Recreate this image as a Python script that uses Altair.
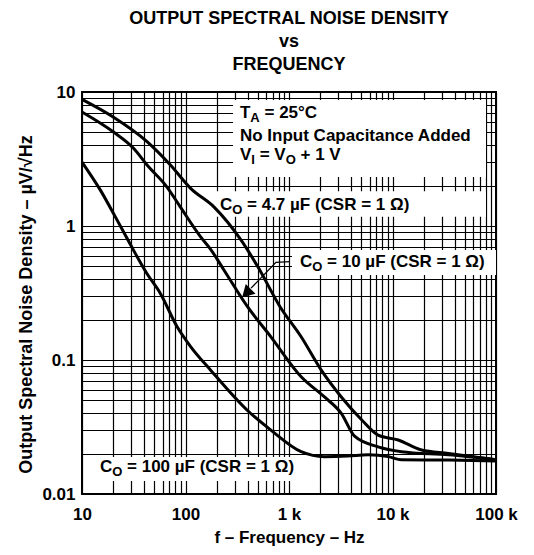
import altair as alt
import pandas as pd

# ---- data ----
C47_F = [10, 20, 42.5, 71.5, 112, 188, 342, 497, 819, 1310, 2050, 3200, 5000, 7260, 11350, 19100, 34800, 100000]
C47_V = [8.8, 6.5, 4.26, 2.85, 1.91, 1.39, 0.79, 0.50, 0.25, 0.149, 0.084, 0.053, 0.036, 0.0275, 0.0253, 0.0213, 0.0201, 0.018]

C10_F = [10, 20, 31.5, 42.5, 66, 89, 140, 175, 235, 397, 668, 1310, 2200, 3200, 4300, 7260, 12200, 34800, 100000]
C10_V = [7.1, 5.05, 3.8, 2.85, 1.96, 1.39, 0.83, 0.67, 0.47, 0.25, 0.149, 0.075, 0.053, 0.040, 0.027, 0.0225, 0.0207, 0.0196, 0.018]

C100_F = [10, 15, 21, 29, 42.5, 57, 83, 112, 175, 397, 668, 1310, 2200, 3700, 5800, 9100, 12200, 34800, 100000]
C100_V = [3.0, 1.86, 1.17, 0.74, 0.44, 0.315, 0.177, 0.126, 0.084, 0.042, 0.030, 0.0207, 0.019, 0.0192, 0.0196, 0.019, 0.018, 0.0179, 0.0176]

SERIES = ["4.7 uF", "10 uF", "100 uF"]

X_GRID = [round(m * 10 ** e, 6) for e in range(1, 5) for m in range(1, 10)] + [100000]
Y_GRID = [round(m * 10 ** e, 6) for e in range(-2, 1) for m in range(1, 10)] + [10]

TITLE_LINES = ["OUTPUT SPECTRAL NOISE DENSITY", "vs", "FREQUENCY"]
X_TITLE = "f \u2013 Frequency \u2013 Hz"
Y_TITLE = "Output Spectral Noise Density \u2013 \u00b5V/\u221aHz"

# annotation text anchors (data units) and pieces (text, is_subscript)
ANNOT_F = [336, 336, 336, 215, 1276, 14.9]
ANNOT_V = [6.97, 4.70, 3.39, 1.44, 0.538, 0.0159]
ANNOT_SEGS = [
    [("T", 0), ("A", 1), (" = 25\u00b0C", 0)],
    [("No Input Capacitance Added", 0)],
    [("V", 0), ("I", 1), (" = V", 0), ("O", 1), (" + 1 V", 0)],
    [("C", 0), ("O", 1), (" = 4.7 \u00b5F (CSR = 1 \u03a9)", 0)],
    [("C", 0), ("O", 1), (" = 10 \u00b5F (CSR = 1 \u03a9)", 0)],
    [("C", 0), ("O", 1), (" = 100 \u00b5F (CSR = 1 \u03a9)", 0)],
]

# white label backgrounds (data units)
BOX_F1 = [288, 193, 1069, 10.9]
BOX_F2 = [80000, 80000, 100000, 1596]
BOX_V1 = [8.71, 1.82, 0.662, 0.0189]
BOX_V2 = [2.32, 1.17, 0.431, 0.0125]

# leader arrow for the 10 uF label
LEAD_F = [1023, 748, 430]
LEAD_V = [0.542, 0.535, 0.344]
HEAD_F = [400]
HEAD_V = [0.324]

FONT = "Liberation Sans"
XS = alt.Scale(type="log", domain=[10, 100000])
YS = alt.Scale(type="log", domain=[0.01, 10])

# Arial/Liberation Sans Bold advance widths (per 1000 em)
W = {" ": 278, "(": 333, ")": 333, "+": 584, ".": 278, "=": 584, "\u00b0": 400,
     "A": 722, "C": 722, "F": 611, "I": 278, "N": 722, "O": 778, "R": 722, "S": 667,
     "T": 611, "V": 667, "a": 556, "c": 556, "d": 611, "e": 556, "i": 278, "n": 611,
     "p": 611, "t": 333, "u": 611, "\u00b5": 611, "\u03a9": 768}
for d in "0123456789":
    W[d] = 556


def width(s, size):
    return sum(W.get(ch, 600) for ch in s) * size / 1000.0


MAIN_SIZE = 17
SUB_SIZE = 13

# ---- curves ----
rows = []
for name, fs, vs in zip(SERIES, [C47_F, C10_F, C100_F], [C47_V, C10_V, C100_V]):
    for f, v in zip(fs, vs):
        rows.append({"series": name, "f": f, "v": v})
curves_df = pd.DataFrame(rows)

x_label_expr = ("datum.value == 10 ? '10' : datum.value == 100 ? '100' : datum.value == 1000 ? '1 k' : "
                "datum.value == 10000 ? '10 k' : datum.value == 100000 ? '100 k' : ''")
y_label_expr = ("datum.value == 10 ? '10' : datum.value == 1 ? '1' : datum.value == 0.1 ? '0.1' : "
                "datum.value == 0.01 ? '0.01' : ''")

common_axis = dict(grid=True, gridColor="black", gridWidth=1.2, gridOpacity=1,
                   ticks=False, tickSize=0, domain=False, labelFont=FONT, labelFontWeight="bold",
                   labelFontSize=17, labelColor="black", labelOverlap=False, labelFlush=False,
                   titleFont=FONT, titleFontWeight="bold", titleColor="black")

X_AXIS = alt.Axis(values=X_GRID, labelExpr=x_label_expr, labelPadding=12,
                  title=X_TITLE, titleFontSize=17, titlePadding=7, **common_axis)
Y_AXIS = alt.Axis(values=Y_GRID, labelExpr=y_label_expr, labelPadding=7,
                  title=Y_TITLE, titleFontSize=18, titlePadding=6, titleY=212, **common_axis)


def X():
    return alt.X("f:Q", scale=XS, axis=X_AXIS)


def Y():
    return alt.Y("v:Q", scale=YS, axis=Y_AXIS)


# boxes
box_df = pd.DataFrame({"f": BOX_F1, "f2": BOX_F2, "v": BOX_V1, "v2": BOX_V2})
boxes = alt.Chart(box_df).mark_rect(color="white", opacity=1).encode(
    x=X(), x2="f2:Q", y=Y(), y2="v2:Q")

curves = alt.Chart(curves_df).mark_line(color="black", strokeWidth=3, interpolate="monotone").encode(
    x=X(), y=Y(), detail="series:N")

lead_df = pd.DataFrame({"f": LEAD_F, "v": LEAD_V, "o": list(range(len(LEAD_F)))})
lead = alt.Chart(lead_df).mark_line(color="black", strokeWidth=1.3).encode(
    x=X(), y=Y(), order="o:Q")

head_df = pd.DataFrame({"f": HEAD_F, "v": HEAD_V})
head = alt.Chart(head_df).mark_point(shape="triangle", filled=True, color="black", opacity=1,
                                     size=190, angle=225).encode(x=X(), y=Y())

texts = []
for af, av, segs in zip(ANNOT_F, ANNOT_V, ANNOT_SEGS):
    dx = 0.0
    for txt, sub in segs:
        size = SUB_SIZE if sub else MAIN_SIZE
        lead_sp = len(txt) - len(txt.lstrip(" "))
        dx += width(" " * lead_sp, size)
        body = txt.lstrip(" ")
        tdf = pd.DataFrame({"f": [af], "v": [av], "t": [body]})
        texts.append(
            alt.Chart(tdf).mark_text(align="left", baseline="middle", font=FONT, fontWeight="bold",
                                     fontSize=size, color="black", dx=dx, dy=5 if sub else 0).encode(
                x=X(), y=Y(), text="t:N")
        )
        dx += width(body, size)

chart = alt.layer(boxes, curves, lead, head, *texts).properties(
    width=414, height=402,
    autosize=alt.AutoSizeParams(type="none"),
    padding={"left": 74, "top": 84, "right": 30, "bottom": 60},
    background="white",
    title=alt.TitleParams(text=TITLE_LINES, font=FONT, fontWeight="bold", fontSize=18, color="black",
                          anchor="middle", lineHeight=23, offset=9),
).configure_view(stroke="black", strokeWidth=2)

chart.save("out.html", embed_options={"renderer": "svg", "actions": False})
